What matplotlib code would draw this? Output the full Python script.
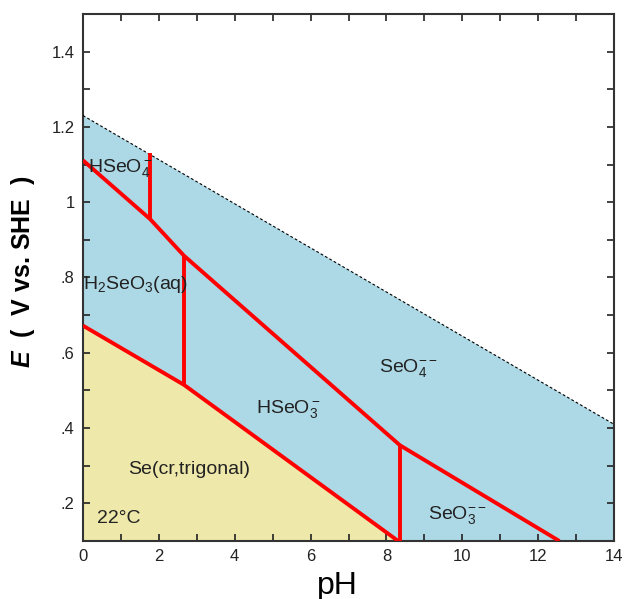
import numpy as np
import matplotlib
matplotlib.use("Agg")
import matplotlib.pyplot as plt

plt.rcParams['font.family'] = ['Liberation Sans', 'DejaVu Sans']
plt.rcParams['mathtext.fontset'] = 'custom'
plt.rcParams['mathtext.rm'] = 'Liberation Sans'
plt.rcParams['mathtext.it'] = 'Liberation Sans:italic'
plt.rcParams['mathtext.bf'] = 'Liberation Sans:bold'
plt.rcParams['mathtext.bfit'] = 'Liberation Sans:italic:bold'

# Data

waterPH = [0, 14]           # upper stability limit of water
waterE = [1.23, 0.41]

sePH = [0, 2.66, 8.31]      # Se(cr) / aqueous boundary
seE = [0.672, 0.515, 0.1]

upperPH = [0, 1.77, 2.66, 8.36, 12.56]   # Se(VI) / Se(IV) boundary
upperE = [1.111, 0.955, 0.858, 0.354, 0.1]

vertPH = [1.77, 2.66, 8.36]              # acid-base boundaries
vertLow = [0.955, 0.515, 0.1]
vertHigh = [1.13, 0.858, 0.354]

labels = [r"HSeO$\mathregular{_4^-}$", r"H$\mathregular{_2}$SeO$\mathregular{_3}$(aq)",
          r"SeO$\mathregular{_4^{--}}$", r"HSeO$\mathregular{_3^-}$",
          "Se(cr,trigonal)", "22°C", r"SeO$\mathregular{_3^{--}}$"]
labelPH = [0.12, 0.0, 7.8, 4.55, 1.2, 0.37, 9.1]
labelE = [1.09, 0.78, 0.56, 0.45, 0.29, 0.16, 0.17]

yTicks = [0.2, 0.4, 0.6, 0.8, 1.0, 1.2, 1.4]
yTickLabels = [".2", ".4", ".6", ".8", "1", "1.2", "1.4"]
xTicks = [0, 2, 4, 6, 8, 10, 12, 14]

yMin, yMax = 0.1, 1.5

fig = plt.figure(figsize=(6.24, 5.99), dpi=100)
ax = fig.add_axes([0.133, 0.0968, 0.851, 0.88])

# Regions
bluePoly = list(zip(waterPH, waterE)) + [(waterPH[-1], yMin)] + list(zip(sePH[::-1], seE[::-1]))
yellowPoly = list(zip(sePH, seE)) + [(sePH[0], yMin)]
ax.add_patch(plt.Polygon(bluePoly, closed=True, facecolor="#ADD9E6", edgecolor="none", zorder=1))
ax.add_patch(plt.Polygon(yellowPoly, closed=True, facecolor="#EEE8AA", edgecolor="none", zorder=1))

ax.plot(waterPH, waterE, color="black", lw=0.8, ls=(0, (2.5, 2)), zorder=3)

ax.plot(sePH, seE, color="#FF0000", lw=2.8, zorder=4, solid_capstyle="butt")
ax.plot(upperPH, upperE, color="#FF0000", lw=2.8, zorder=4, solid_capstyle="butt")
ax.vlines(vertPH, vertLow, vertHigh, color="#FF0000", lw=2.8, zorder=4)

for t, x, y in zip(labels, labelPH, labelE):
    ax.text(x, y, t, fontsize=14, color="#222222", va="center", ha="left", zorder=5)

ax.set_xlim(0, 14)
ax.set_ylim(yMin, yMax)
ax.set_xticks(xTicks)
ax.set_xticks(np.arange(0, 15, 1), minor=True)
ax.set_yticks(yTicks)
ax.set_yticklabels(yTickLabels)
ax.set_yticks(np.arange(0.1, 1.51, 0.1), minor=True)
ax.tick_params(which="both", direction="in", length=5, width=1.2, top=True, right=True,
               labelsize=12, colors="#222222", pad=6)
for s in ax.spines.values():
    s.set_linewidth(1.5)
    s.set_color("#333333")

ax.set_xlabel("pH", fontsize=23)
ax.xaxis.set_label_coords(0.48, -0.056, transform=ax.transAxes)
ax.xaxis.label.set_va("top")
ax.set_ylabel(r"$\mathbfit{E}$  (  V vs. SHE  )", fontsize=18, fontweight="bold")
ax.yaxis.set_label_coords(-0.087, 0.51)

fig.savefig("out.png", dpi=100)
